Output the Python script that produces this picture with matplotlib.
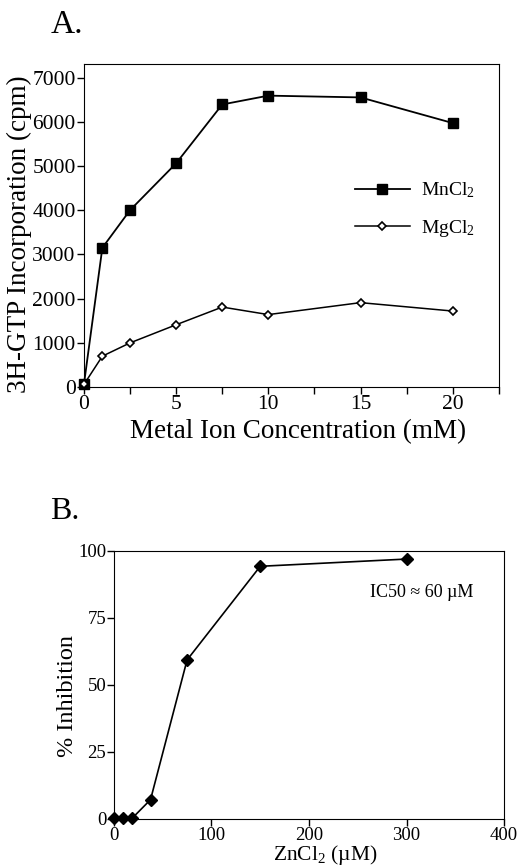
import numpy as np
import matplotlib
matplotlib.use("Agg")
import matplotlib.pyplot as plt
from matplotlib.ticker import MultipleLocator

plt.rcParams['font.family'] = ['Liberation Serif', 'DejaVu Serif']
plt.rcParams['mathtext.fontset'] = 'custom'
plt.rcParams['mathtext.rm'] = 'Liberation Serif'
plt.rcParams['mathtext.it'] = 'Liberation Serif:italic'

# panel A: metal ion concentration (mM) vs 3H-GTP incorporation (cpm)
conc_mM = [0, 1, 2.5, 5, 7.5, 10, 15, 20]
mncl2_cpm = [60, 3150, 4000, 5060, 6390, 6590, 6550, 5970]
mgcl2_cpm = [60, 700, 1000, 1410, 1810, 1640, 1910, 1720]

# panel B: ZnCl2 (uM) vs % inhibition
zn_uM = [0, 9.4, 18.75, 37.5, 75, 150, 300]
inhibition = [0.3, 0.3, 0.3, 7.2, 59.3, 94.2, 96.9]

fig = plt.figure(figsize=(5.18, 8.68), dpi=100)

# ---- Panel A
ax1 = fig.add_axes([0.162, 0.554, 0.801, 0.372])
ax1.plot(conc_mM, mncl2_cpm, color='black', lw=1.3, marker='s', ms=7,
         mfc='black', mec='black', label='MnCl$_2$', clip_on=False, zorder=3)
ax1.plot(conc_mM, mgcl2_cpm, color='black', lw=1.1, marker='D', ms=4.5,
         mfc='white', mec='black', mew=1.2, label='MgCl$_2$', clip_on=False, zorder=3)
ax1.set_xlim(0, 22.5)
ax1.set_ylim(0, 7300)
ax1.xaxis.set_major_locator(MultipleLocator(5))
ax1.xaxis.set_minor_locator(MultipleLocator(2.5))
ax1.yaxis.set_major_locator(MultipleLocator(1000))
ax1.tick_params(which='both', direction='out', length=5, width=1, labelsize=15.5, pad=1)
ax1.set_xlabel('Metal Ion Concentration (mM)', fontsize=19.5)
ax1.set_ylabel('3H-GTP Incorporation (cpm)', fontsize=19.5)
ax1.xaxis.set_label_coords(0.517, -0.100)
ax1.yaxis.set_label_coords(-0.125, 0.474)
ax1.legend(loc='center right', bbox_to_anchor=(0.985, 0.55), frameon=False,
           fontsize=14, handlelength=2.8, labelspacing=0.9, handletextpad=0.6)
fig.text(0.097, 0.971, 'A.', fontsize=24, va='center', ha='left')

# ---- Panel B
ax2 = fig.add_axes([0.220, 0.0565, 0.753, 0.309])
ax2.plot(zn_uM, inhibition, color='black', lw=1.2, marker='D', ms=6,
         mfc='black', mec='black', clip_on=False, zorder=3)
ax2.set_xlim(0, 400)
ax2.set_ylim(0, 100)
ax2.xaxis.set_major_locator(MultipleLocator(100))
ax2.yaxis.set_major_locator(MultipleLocator(25))
ax2.tick_params(which='both', direction='out', length=5, width=1, labelsize=13.5, pad=0.5)
ax2.set_xlabel('ZnCl$_2$ (µM)', fontsize=15.5)
ax2.set_ylabel('% Inhibition', fontsize=17.5)
ax2.xaxis.set_label_coords(0.542, -0.090)
ax2.yaxis.set_label_coords(-0.092, 0.459)
ax2.text(0.656, 0.843, 'IC50 ≈ 60 µM', transform=ax2.transAxes, fontsize=13,
         ha='left', va='center')
fig.text(0.097, 0.411, 'B.', fontsize=23, va='center', ha='left')

fig.savefig('out.png', dpi=100)
